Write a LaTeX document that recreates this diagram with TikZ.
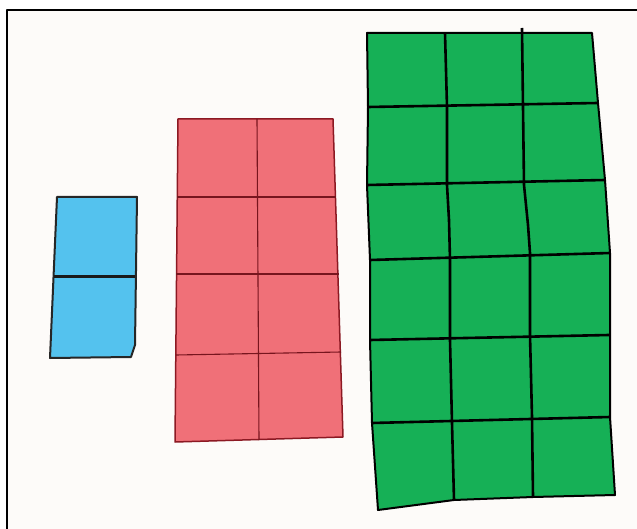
\documentclass[tikz,border=0pt]{standalone}
\usepackage{tikz}
\usetikzlibrary{calc}
\usepackage{xcolor}
\definecolor{paperwhite}{RGB}{253,251,249}
\definecolor{tileblue}{RGB}{84,194,238}
\definecolor{tilered}{RGB}{240,112,120}
\definecolor{tilegreen}{RGB}{22,176,86}
\definecolor{penred}{RGB}{140,25,35}

\begin{document}
\begin{tikzpicture}[x=1pt,y=-1pt,line join=round,
    tileedge/.style={line width=2pt},
    gridline/.style={line width=2.6pt,black}]
  \useasboundingbox[fill=white](0,0)rectangle(637,529);
  \fill[paperwhite](8,11)rectangle(637,529);
  \draw[line width=2pt](7,529)--(7,10)--(637,10);

  \draw[tileedge,black!85,fill=tileblue](57,197)--(137,197)--(135,345)--(131,357)--(50,358)--cycle;
  \draw[line width=3pt,black!90](54,277)--(135,277);

  \draw[line width=1.5pt,penred,fill=tilered](178,119)--(333,119)--(343,437)--(175,442)--cycle;
  \foreach \ya/\yb/\xa/\xb in {197/197/177/336,274/274/176/339,355/352/176/341}{
    \draw[line width=1.1pt,penred!85!black](\xa,\ya)--(\xb,\yb);
  }
  \draw[line width=1.1pt,penred!85!black](257,119)--(259,440);

  \draw[tileedge,black,fill=tilegreen](367,33)--(592,33)--(598,103)--(605,180)--(610,253)--(610,335)
    --(610,417)--(615,495)--(533,497)--(454,500)--(378,510)--(372,423)--(370,340)--(370,260)
    --(367,185)--(368,107)--cycle;
  \foreach \xa/\ya/\xb/\yb in {368/107/598/103,367/185/605/180,370/260/610/253,
      370/340/609/335,372/423/610/417}{
    \draw[gridline](\xa,\ya)--(\xb,\yb);
  }
  \draw[gridline](445,33)--(447,107)--(447,185)--(449,220)--(450,260)--(450,340)--(452,423)--(454,500);
  \draw[gridline](522,28)--(523,107)--(524,185)--(528,225)--(530,253)--(530,335)--(532,417)--(533,497);
\end{tikzpicture}
\end{document}
